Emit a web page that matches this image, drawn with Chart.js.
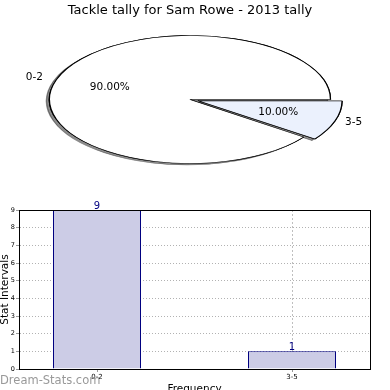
<!DOCTYPE html>
<html>
<head>
<meta charset="utf-8">
<script src="https://cdn.jsdelivr.net/npm/chart.js@4.4.0/dist/chart.umd.min.js"></script>
<style>
  html, body { margin: 0; padding: 0; background: #fff; overflow: hidden; }
  #pieBox { position: absolute; left: 0; top: 0; width: 390px; height: 200px; }
  #barBox { position: absolute; left: 0; top: 200px; width: 390px; height: 200px; }
</style>
</head>
<body>
<div id="pieBox"><canvas id="pieChart"></canvas></div>
<div id="barBox"><canvas id="barChart"></canvas></div>
<script>
// data
const categories = ['0-2', '3-5'];
const tallies = [9, 1];
const yTicks = [0, 1, 2, 3, 4, 5, 6, 7, 8, 9];

const pieColors = ['#ffffff', '#ebf1fd'];
const explode = [0, 34];
const squash = 0.4555; // ellipse ry/rx

Chart.defaults.font.family = 'DejaVu Sans';
Chart.defaults.color = '#000';

const total = tallies.reduce((a, b) => a + b, 0);

// squash the pie into an ellipse, with a drop shadow and matplotlib-like labels
const ellipsePlugin = {
    id: 'ellipse',
    beforeDatasetsDraw(chart) {
        const ctx = chart.ctx;
        const arcs = chart.getDatasetMeta(0).data;
        const cx = arcs[0].x, cy = arcs[0].y;
        ctx.save();
        ctx.translate(cx, cy);
        ctx.scale(1, squash);
        ctx.translate(-cx, -cy);
        ctx.save();
        ctx.shadowColor = 'rgba(0,0,0,0.45)';
        ctx.shadowOffsetX = -3;
        ctx.shadowOffsetY = 1.5;
        arcs.forEach(a => a.draw(ctx));
        ctx.restore();
    },
    afterDatasetsDraw(chart) {
        const ctx = chart.ctx;
        ctx.restore();
        const arcs = chart.getDatasetMeta(0).data;
        ctx.save();
        ctx.font = '10.5px "DejaVu Sans"';
        ctx.fillStyle = '#000';
        ctx.textBaseline = 'middle';
        arcs.forEach((a, i) => {
            const mid = (a.startAngle + a.endAngle) / 2;
            const shift = (a.options.offset || 0) / 4;
            const ox = a.x + Math.cos(mid) * shift;
            const oy = a.y + Math.sin(mid) * shift * squash;
            const r = a.outerRadius;
            ctx.textAlign = 'center';
            ctx.fillText((tallies[i] / total * 100).toFixed(2) + '%',
                ox + Math.cos(mid) * r * 0.6, oy + Math.sin(mid) * r * 0.6 * squash);
            ctx.textAlign = Math.cos(mid) > 0 ? 'left' : 'right';
            ctx.fillText(categories[i],
                ox + Math.cos(mid) * r * 1.1, oy + Math.sin(mid) * r * 1.1 * squash);
        });
        ctx.restore();
    }
};

new Chart(document.getElementById('pieChart'), {
    type: 'pie',
    data: {
        labels: categories,
        datasets: [{
            data: tallies,
            backgroundColor: pieColors,
            borderColor: '#000',
            borderWidth: 1.3,
            offset: explode,
            hoverOffset: 0,
            clip: false
        }]
    },
    options: {
        animation: false,
        responsive: true,
        maintainAspectRatio: false,
        radius: 140.5,
        rotation: 90 + 360 - 360 * tallies[0] / total,
        layout: { padding: { top: 0, right: 10, bottom: 19.6, left: 0 } },
        plugins: {
            legend: { display: false },
            tooltip: { enabled: false },
            title: {
                display: true,
                text: 'Tackle tally for Sam Rowe - 2013 tally',
                font: { size: 13, weight: 'normal' },
                color: '#000',
                padding: { top: 3, bottom: 0 }
            }
        }
    },
    plugins: [ellipsePlugin]
});

// value labels, plot frame and watermark
const barPlugin = {
    id: 'barExtras',
    afterDraw(chart) {
        const ctx = chart.ctx;
        const { left, top, right, bottom } = chart.chartArea;
        ctx.save();
        ctx.strokeStyle = '#000';
        ctx.lineWidth = 1;
        ctx.strokeRect(Math.round(left) + 0.5, Math.round(top) + 0.5,
            Math.round(right - left), Math.round(bottom - top));

        ctx.fillStyle = '#000080';
        ctx.font = '10px "DejaVu Sans"';
        ctx.textAlign = 'center';
        ctx.textBaseline = 'alphabetic';
        chart.getDatasetMeta(0).data.forEach((bar, i) => {
            ctx.fillText(String(tallies[i]), bar.x, bar.y - 1.5);
        });

        ctx.fillStyle = '#999';
        ctx.font = '11.5px "DejaVu Sans"';
        ctx.textAlign = 'left';
        ctx.fillText('Dream-Stats.com', 0, 184);
        ctx.restore();
    }
};

new Chart(document.getElementById('barChart'), {
    type: 'bar',
    data: {
        datasets: [{
            data: tallies.map((v, i) => ({ x: i, y: v })),
            backgroundColor: '#ccccE6',
            borderColor: '#000080',
            borderWidth: 1,
            barPercentage: 88 / 195,
            categoryPercentage: 1
        }]
    },
    options: {
        animation: false,
        responsive: true,
        maintainAspectRatio: false,
        layout: { padding: { top: 10, right: 20, bottom: 0, left: 0 } },
        plugins: {
            legend: { display: false },
            tooltip: { enabled: false }
        },
        scales: {
            x: {
                type: 'linear',
                min: -0.4,
                max: 1.4,
                offset: false,
                z: 1,
                afterBuildTicks: s => { s.ticks = categories.map((c, i) => ({ value: i })); },
                afterFit: s => { s.height = 31; },
                ticks: {
                    callback: v => categories[v],
                    font: { size: 7 },
                    color: '#000',
                    padding: 1,
                    maxRotation: 0,
                    autoSkip: false
                },
                grid: { offset: false, color: 'rgba(0,0,0,0.25)', tickLength: 3, tickColor: '#999' },
                border: { color: '#000', width: 1, dash: [2, 2] },
                title: {
                    display: true,
                    text: 'Frequency',
                    font: { size: 10.5 },
                    color: '#000',
                    padding: { top: 0, bottom: 4 }
                }
            },
            y: {
                min: 0,
                max: 9,
                z: 1,
                afterBuildTicks: s => { s.ticks = yTicks.map(v => ({ value: v })); },
                afterFit: s => { s.width = 19; },
                ticks: { font: { size: 6.5 }, color: '#000', padding: 1 },
                grid: { color: 'rgba(0,0,0,0.3)', tickLength: 3, tickColor: '#999' },
                border: { color: '#000', width: 1, dash: [1, 2] },
                title: {
                    display: true,
                    text: 'Stat Intervals',
                    font: { size: 10.5, lineHeight: 1 },
                    color: '#000',
                    padding: 0
                }
            }
        }
    },
    plugins: [barPlugin]
});
</script>
</body>
</html>
